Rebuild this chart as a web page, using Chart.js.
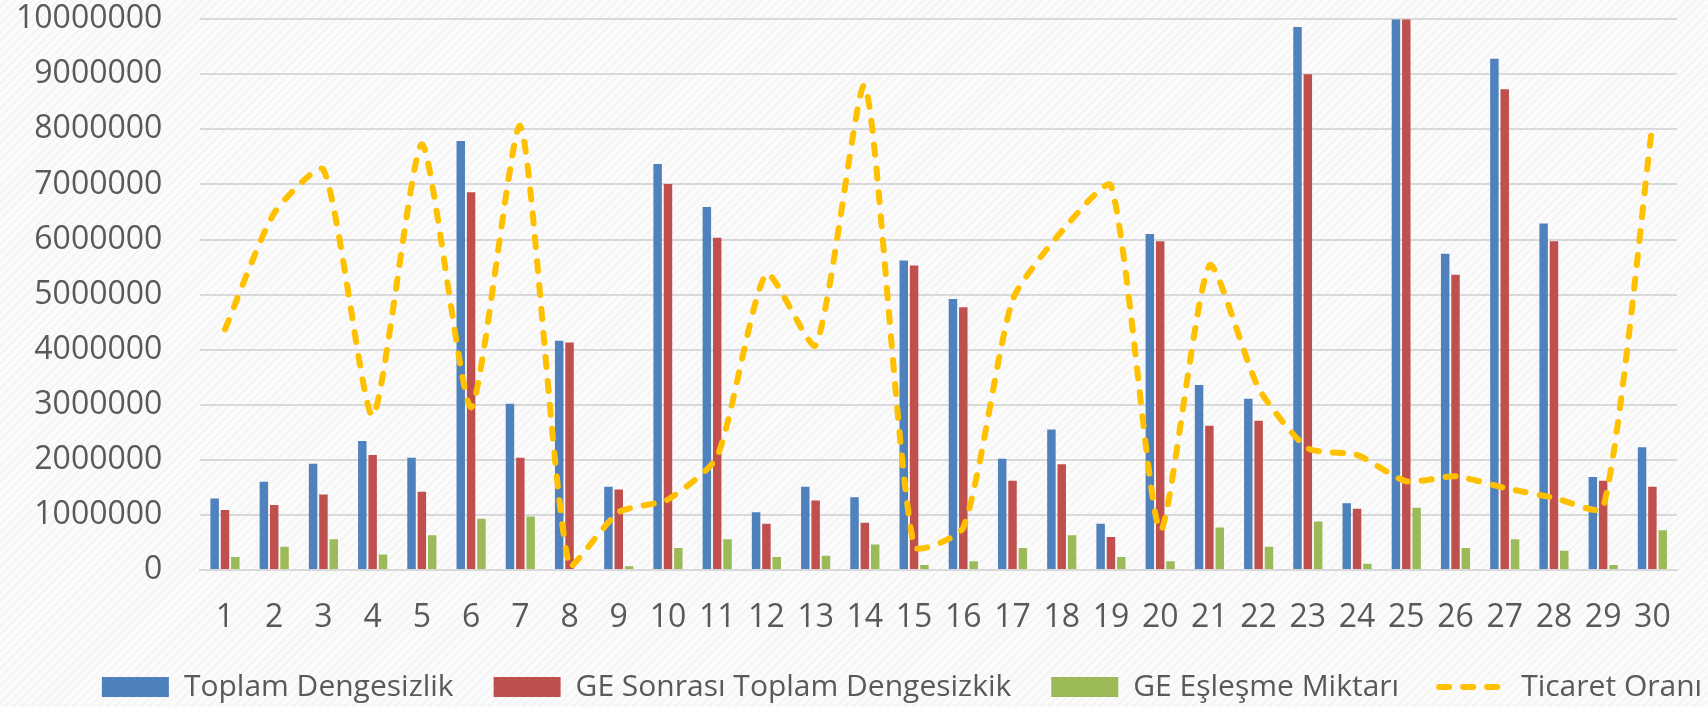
<!DOCTYPE html>
<html>
<head>
<meta charset="utf-8">
<script src="https://cdn.jsdelivr.net/npm/chart.js@4.4.0/dist/chart.umd.min.js"></script>
<style>
  html, body {
    margin: 0;
    padding: 0;
    overflow: hidden;
    width: 1708px;
    height: 707px;
    background-color: #fbfbfb;
    background-image: repeating-linear-gradient(135deg, #fbfbfb 0px, #fbfbfb 4px, #efefef 5px, #fbfbfb 6px);
  }
  #wrap { width: 1788px; height: 707px; position: relative; }
</style>
</head>
<body>
<div id="wrap"><canvas id="myChart"></canvas></div>
<script>
const days = ['1','2','3','4','5','6','7','8','9','10','11','12','13','14','15',
  '16','17','18','19','20','21','22','23','24','25','26','27','28','29','30'];

const toplamDengesizlik = [1300000, 1600000, 1930000, 2340000, 2040000, 7790000, 3020000, 4160000, 1510000, 7370000,
  6590000, 1050000, 1510000, 1320000, 5620000, 4920000, 2020000, 2550000, 840000, 6100000,
  3360000, 3110000, 9860000, 1210000, 10000000, 5740000, 9280000, 6290000, 1690000, 2230000];

const geSonrasi = [1090000, 1180000, 1370000, 2090000, 1420000, 6860000, 2040000, 4130000, 1460000, 7010000,
  6030000, 840000, 1260000, 860000, 5530000, 4770000, 1620000, 1920000, 600000, 5970000,
  2620000, 2710000, 9000000, 1110000, 10000000, 5360000, 8730000, 5970000, 1620000, 1510000];

const geEslesme = [235000, 420000, 560000, 280000, 630000, 930000, 970000, 20000, 70000, 400000,
  560000, 235000, 260000, 465000, 90000, 160000, 400000, 630000, 235000, 160000,
  770000, 420000, 880000, 115000, 1130000, 400000, 560000, 350000, 90000, 720000];

const ticaretOrani = [4370000, 6480000, 7270000, 2800000, 7730000, 2950000, 8060000, 50000, 1050000, 1280000,
  2060000, 5380000, 4080000, 8790000, 430000, 770000, 4900000, 6150000, 6980000, 720000,
  5530000, 3300000, 2210000, 2090000, 1610000, 1700000, 1490000, 1310000, 1130000, 8090000];

const yTicks = [0, 1000000, 2000000, 3000000, 4000000, 5000000, 6000000, 7000000, 8000000, 9000000, 10000000];

const textColor = '#595959';
const ctx = document.getElementById('myChart');

const myChart = new Chart(ctx, {
  data: {
    labels: days,
    datasets: [
      {
        type: 'bar',
        label: 'Toplam Dengesizlik',
        data: toplamDengesizlik,
        backgroundColor: '#4F81BD',
        categoryPercentage: 0.63,
        barPercentage: 0.82,
        order: 1
      },
      {
        type: 'bar',
        label: 'GE Sonrası Toplam Dengesizkik',
        data: geSonrasi,
        backgroundColor: '#C0504D',
        categoryPercentage: 0.63,
        barPercentage: 0.82,
        order: 1
      },
      {
        type: 'bar',
        label: 'GE Eşleşme Miktarı',
        data: geEslesme,
        backgroundColor: '#9BBB59',
        categoryPercentage: 0.63,
        barPercentage: 0.82,
        order: 1
      },
      {
        type: 'line',
        label: 'Ticaret Oranı',
        data: ticaretOrani,
        borderColor: '#FFC000',
        backgroundColor: '#FFC000',
        borderWidth: 6,
        borderDash: [10, 14],
        borderCapStyle: 'round',
        pointRadius: 0,
        pointStyle: 'line',
        tension: 0.2,
        fill: false,
        order: 0
      }
    ]
  },
  options: {
    responsive: true,
    maintainAspectRatio: false,
    animation: false,
    layout: {
      padding: { left: 16, right: 0, top: 0, bottom: -5 }
    },
    plugins: {
      tooltip: { enabled: false },
      legend: {
        position: 'bottom',
        labels: {
          color: textColor,
          font: { family: 'Open Sans', size: 30 },
          usePointStyle: true,
          pointStyleWidth: 67,
          boxHeight: 20,
          padding: 40,
          sort: (a, b) => a.datasetIndex - b.datasetIndex,
          generateLabels: (chart) => {
            const items = Chart.defaults.plugins.legend.labels.generateLabels(chart);
            items.forEach(item => {
              if (item.datasetIndex < 3) {
                item.pointStyle = 'rect';
                item.lineWidth = 0;
              } else {
                item.pointStyle = 'line';
                item.lineWidth = 6;
                item.lineDash = [10, 14];
                item.lineCap = 'round';
              }
            });
            return items;
          }
        }
      }
    },
    scales: {
      x: {
        grid: { display: false, drawTicks: false },
        border: { display: true, color: '#d9d9d9', width: 2 },
        afterFit: (axis) => { axis.height = 62; },
        ticks: {
          color: textColor,
          font: { family: 'Open Sans', size: 32 },
          padding: 29,
          maxRotation: 0,
          autoSkip: false
        }
      },
      y: {
        min: 0,
        max: 10000000,
        afterBuildTicks: (axis) => {
          axis.ticks = yTicks.map(v => ({ value: v }));
        },
        grid: { color: '#d9d9d9', lineWidth: 2, drawTicks: true, tickLength: 38, tickColor: 'rgba(0,0,0,0)' },
        border: { display: false },
        ticks: {
          color: textColor,
          font: { family: 'Open Sans', size: 32 },
          padding: 0,
          callback: (v) => String(v)
        }
      },
      // empty right-hand gutter, the plot in the original stops short of the legend's right end
      gutter: {
        type: 'linear',
        position: 'right',
        grid: { display: false, drawTicks: false },
        border: { display: false },
        ticks: { display: false },
        afterFit: (axis) => { axis.width = 111; }
      }
    }
  }
});
</script>
</body>
</html>
